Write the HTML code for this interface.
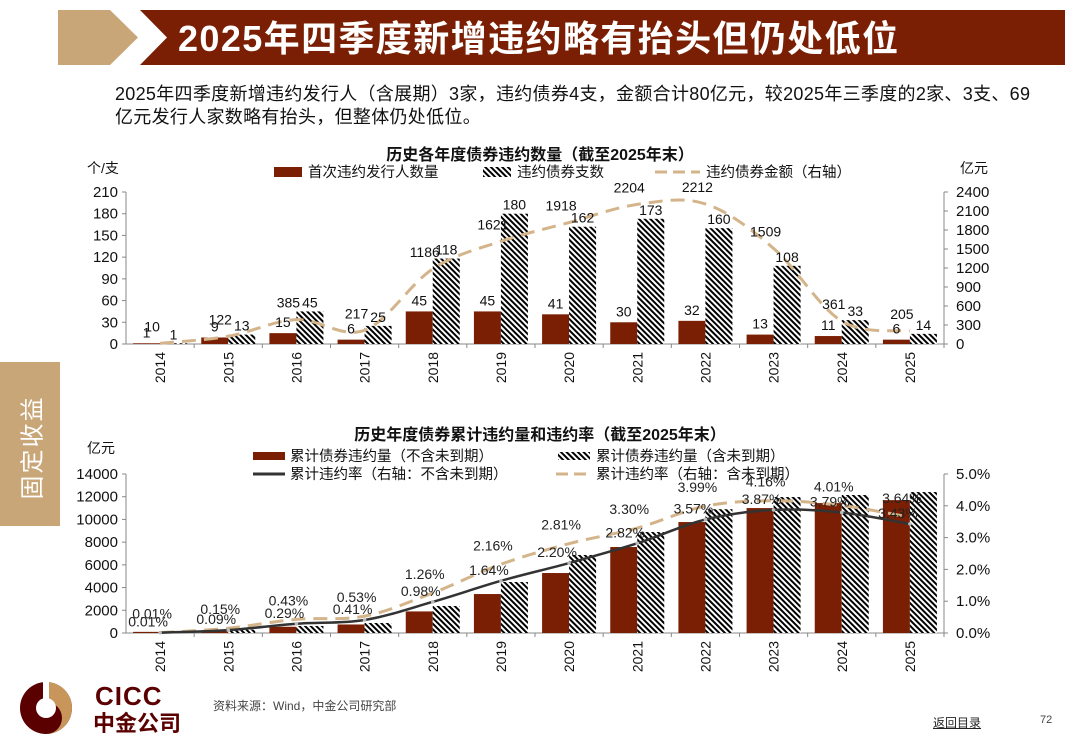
<!DOCTYPE html>
<html><head><meta charset="utf-8">
<style>
body{margin:0;width:1080px;height:755px;background:#fff;position:relative;overflow:hidden;font-family:"Liberation Sans","Noto Sans CJK SC",sans-serif;}
.abs{position:absolute}
svg text{font-family:"Liberation Sans","Noto Sans CJK SC",sans-serif;}
</style></head><body>
<svg class="abs" style="left:0;top:0" width="1080" height="70">
<polygon points="58,10 110,10 138,37.5 110,65 58,65" fill="#c8a677"/>
<polygon points="140,10 1065,10 1065,65 140,65 167,37.5" fill="#7a1f03"/>
<text x="178" y="51" fill="#fff" font-size="36" font-weight="bold" letter-spacing="1.4">2025年四季度新增违约略有抬头但仍处低位</text>
</svg>
<div class="abs" style="left:115px;top:83px;font-size:18px;line-height:23px;color:#111;letter-spacing:0.3px;white-space:nowrap">2025年四季度新增违约发行人（含展期）3家，违约债券4支，金额合计80亿元，较2025年三季度的2家、3支、69<br>亿元发行人家数略有抬头，但整体仍处低位。</div>
<div class="abs" style="left:0;top:362px;width:60px;height:164px;background:#c8a677"><div style="color:#fff;font-size:24px;position:absolute;left:-22px;top:68px;width:104px;text-align:center;transform:rotate(-90deg);letter-spacing:2px;white-space:nowrap">固定收益</div></div>

<svg class="abs" style="left:0;top:0" width="1080" height="755" id="charts">
<defs><pattern id="hatch" width="4" height="4" patternUnits="userSpaceOnUse" patternTransform="rotate(-45)"><rect width="4" height="4" fill="#fff"/><rect width="2" height="4" fill="#000"/></pattern></defs>
<g id="c1"></g><g id="c2"></g>
</svg>

<svg class="abs" style="left:18px;top:680px" width="60" height="56">
<circle cx="28" cy="28" r="26" fill="#5a0000"/>
<path d="M28 2 A26 26 0 0 1 28 54 A16 16 0 0 0 28 22 Z" fill="#c8965a"/>
<circle cx="28" cy="28" r="10" fill="#fff"/>
<rect x="25" y="2" width="6" height="20" fill="#fff"/>
</svg>
<div class="abs" style="left:95px;top:681px;font-size:26px;font-weight:bold;color:#5a0000;letter-spacing:1px">CICC</div>
<div class="abs" style="left:93px;top:706px;font-size:22px;font-weight:bold;color:#5a0000">中金公司</div>
<div class="abs" style="left:213px;top:697px;font-size:12px;color:#444">资料来源：Wind，中金公司研究部</div>
<div class="abs" style="left:933px;top:714px;font-size:12px;color:#222;text-decoration:underline">返回目录</div>
<div class="abs" style="left:1040px;top:714px;font-size:11px;color:#444">72</div>

<script>
const years=['2014','2015','2016','2017','2018','2019','2020','2021','2022','2023','2024','2025'];
const firstIssuers=[1,9,15,6,45,45,41,30,32,13,11,6];
const bondCount=[1,13,45,25,118,180,162,173,160,108,33,14];
const amount=[10,122,385,217,1186,1621,1918,2204,2212,1509,361,205];
const leftTicks1=[0,30,60,90,120,150,180,210];
const rightTicks1=[0,300,600,900,1200,1500,1800,2100,2400];
const cumExcl=[100,250,550,750,1900,3430,5280,7570,9770,11000,11440,11700];
const cumIncl=[110,300,620,880,2380,4490,6870,8890,10900,11970,12150,12410];
const rateExcl=[0.01,0.09,0.29,0.41,0.98,1.64,2.20,2.82,3.57,3.87,3.79,3.43];
const rateIncl=[0.01,0.15,0.43,0.53,1.26,2.16,2.81,3.30,3.99,4.16,4.01,3.64];
const leftTicks2=[0,2000,4000,6000,8000,10000,12000,14000];
const rightTicks2=[0,1,2,3,4,5];

const NS='http://www.w3.org/2000/svg';
function mk(p,tag,attrs,txt){const e=document.createElementNS(NS,tag);for(const k in attrs)e.setAttribute(k,attrs[k]);if(txt!==undefined)e.textContent=txt;p.appendChild(e);return e;}
function smooth(pts){let d='M'+pts[0][0]+','+pts[0][1];for(let i=0;i<pts.length-1;i++){const p0=pts[Math.max(0,i-1)],p1=pts[i],p2=pts[i+1],p3=pts[Math.min(pts.length-1,i+2)];const c1=[p1[0]+(p2[0]-p0[0])/6,p1[1]+(p2[1]-p0[1])/6],c2=[p2[0]-(p3[0]-p1[0])/6,p2[1]-(p3[1]-p1[1])/6];d+=' C'+c1+' '+c2+' '+p2;}return d;}

const L=126,R=944,step=(R-L)/years.length,bw=27;
const xc=i=>L+step*(i+0.5);

function frame(g,top,base,lt,lmax,rt,rmax,rfmt){
  const yl=v=>base-(v/lmax)*(base-top), yr=v=>base-(v/rmax)*(base-top);
  let e=mk(g,'line',{x1:L,y1:top,x2:L,y2:base,stroke:'#888'});
  
  e=mk(g,'line',{x1:R,y1:top,x2:R,y2:base,stroke:'#888'});
  
  e=mk(g,'line',{x1:L,y1:base,x2:R,y2:base,stroke:'#888'});
  
  lt.forEach(v=>{mk(g,'line',{x1:L-4,y1:yl(v),x2:L,y2:yl(v),stroke:'#888'});
    e=mk(g,'text',{x:L-8,y:yl(v)+5,'text-anchor':'end','font-size':15,fill:'#111'},v);
    });
  rt.forEach(v=>{mk(g,'line',{x1:R,y1:yr(v),x2:R+4,y2:yr(v),stroke:'#888'});
    e=mk(g,'text',{x:R+12,y:yr(v)+5,'font-size':15,fill:'#111'},rfmt(v));
    });
  years.forEach((y,i)=>{mk(g,'line',{x1:L+step*(i+1),y1:base,x2:L+step*(i+1),y2:base+4,stroke:'#888'});
    e=mk(g,'text',{x:0,y:0,'font-size':14,fill:'#111','text-anchor':'end',transform:`translate(${xc(i)+5},${base+8}) rotate(-90)`},y);
    });
  return [yl,yr];
}

// Chart 1
(function(){
 const g=document.getElementById('c1');const top=192,base=344;
 const [yl,yr]=frame(g,top,base,leftTicks1,210,rightTicks1,2400,v=>v);
 let e;
 e=mk(g,'text',{x:540,y:160,'text-anchor':'middle','font-size':16,'font-weight':'bold',fill:'#111'},'历史各年度债券违约数量（截至2025年末）');
 
 e=mk(g,'text',{x:87,y:173,'font-size':14,fill:'#111'},'个/支');
 
 e=mk(g,'text',{x:960,y:173,'font-size':14,fill:'#111'},'亿元');
 
 mk(g,'rect',{x:274,y:167,width:28,height:10,fill:'#7a1f03'});
 e=mk(g,'text',{x:308,y:177,'font-size':14.5,fill:'#111'},'首次违约发行人数量');
 
 mk(g,'rect',{x:483,y:167,width:28,height:10,fill:'url(#hatch)'});
 e=mk(g,'text',{x:517,y:177,'font-size':14.5,fill:'#111'},'违约债券支数');
 
 mk(g,'line',{x1:655,y1:172,x2:700,y2:172,stroke:'#d4b48a','stroke-width':3,'stroke-dasharray':'12,6'});
 e=mk(g,'text',{x:706,y:177,'font-size':14.5,fill:'#111'},'违约债券金额（右轴）');
 
 years.forEach((y,i)=>{
  e=mk(g,'rect',{x:xc(i)-bw,y:yl(firstIssuers[i]),width:bw,height:base-yl(firstIssuers[i]),fill:'#7a1f03'});
  
  e=mk(g,'rect',{x:xc(i),y:yl(bondCount[i]),width:bw,height:base-yl(bondCount[i]),fill:'url(#hatch)'});
  
 });
 const pts=amount.map((v,i)=>[xc(i),yr(v)]);
 e=mk(g,'path',{d:smooth(pts),fill:'none',stroke:'#d4b48a','stroke-width':3,'stroke-dasharray':'14,8'});
 
 years.forEach((y,i)=>{
  e=mk(g,'text',{x:xc(i)-bw/2,y:yl(firstIssuers[i])-6,'text-anchor':'middle','font-size':14,fill:'#111'},firstIssuers[i]);
  
  e=mk(g,'text',{x:xc(i)+bw/2,y:yl(bondCount[i])-4,'text-anchor':'middle','font-size':14,fill:'#111'},bondCount[i]);
  
  e=mk(g,'text',{x:xc(i)-8,y:yr(amount[i])-12,'text-anchor':'middle','font-size':14,fill:'#111'},amount[i]);
  
 });
})();

// Chart 2
(function(){
 const g=document.getElementById('c2');const top=474,base=633;
 const [yl,yr]=frame(g,top,base,leftTicks2,14000,rightTicks2,5,v=>v.toFixed(1)+'%');
 let e;
 e=mk(g,'text',{x:540,y:440,'text-anchor':'middle','font-size':16,'font-weight':'bold',fill:'#111'},'历史年度债券累计违约量和违约率（截至2025年末）');
 
 e=mk(g,'text',{x:87,y:453,'font-size':14,fill:'#111'},'亿元');
 
 mk(g,'rect',{x:253,y:452,width:32,height:8,fill:'#7a1f03'});
 e=mk(g,'text',{x:290,y:461,'font-size':14.5,fill:'#111'},'累计债券违约量（不含未到期）');
 
 mk(g,'rect',{x:558,y:452,width:32,height:8,fill:'url(#hatch)'});
 e=mk(g,'text',{x:596,y:461,'font-size':14.5,fill:'#111'},'累计债券违约量（含未到期）');
 
 mk(g,'line',{x1:253,y1:474,x2:285,y2:474,stroke:'#333','stroke-width':3});
 e=mk(g,'text',{x:290,y:479,'font-size':14.5,fill:'#111'},'累计违约率（右轴：不含未到期）');
 
 mk(g,'line',{x1:556,y1:474,x2:590,y2:474,stroke:'#d4b48a','stroke-width':3,'stroke-dasharray':'12,6'});
 e=mk(g,'text',{x:596,y:479,'font-size':14.5,fill:'#111'},'累计违约率（右轴：含未到期）');
 
 years.forEach((y,i)=>{
  e=mk(g,'rect',{x:xc(i)-bw,y:yl(cumExcl[i]),width:bw,height:base-yl(cumExcl[i]),fill:'#7a1f03'});
  
  e=mk(g,'rect',{x:xc(i),y:yl(cumIncl[i]),width:bw,height:base-yl(cumIncl[i]),fill:'url(#hatch)'});
  
 });
 const p1=rateIncl.map((v,i)=>[xc(i),yr(v)]);
 e=mk(g,'path',{d:smooth(p1),fill:'none',stroke:'#d4b48a','stroke-width':3,'stroke-dasharray':'14,8'});
 
 const p2=rateExcl.map((v,i)=>[xc(i),yr(v)]);
 e=mk(g,'path',{d:smooth(p2),fill:'none',stroke:'#333','stroke-width':2.5});
 
 p2.forEach(p=>{e=mk(g,'circle',{cx:p[0],cy:p[1],r:1.8,fill:'#bbb'});
  });
 years.forEach((y,i)=>{
  e=mk(g,'text',{x:xc(i)-12,y:yr(rateExcl[i])-6,'text-anchor':'middle','font-size':14,fill:'#222'},rateExcl[i].toFixed(2)+'%');
  
  e=mk(g,'text',{x:xc(i)-8,y:yr(rateIncl[i])-14,'text-anchor':'middle','font-size':14,fill:'#222'},rateIncl[i].toFixed(2)+'%');
  
 });
})();
</script>
</body></html>
